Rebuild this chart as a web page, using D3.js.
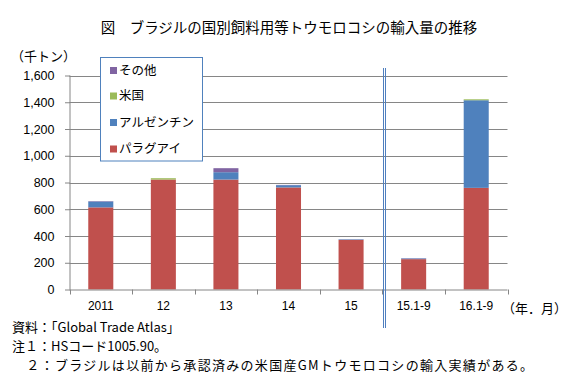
<!DOCTYPE html>
<html><head><meta charset="utf-8">
<script src="https://cdn.jsdelivr.net/npm/d3@7"></script>
<style>
body{margin:0;background:#fff;}
svg{display:block;}
text{font-family:"Noto Sans CJK JP","Liberation Sans",sans-serif;fill:#000;}
.num{font-family:"Liberation Sans","DejaVu Sans",sans-serif;}
</style></head>
<body><svg id="c" width="567" height="383"></svg>
<script>
const categories = ["2011","12","13","14","15","15.1-9","16.1-9"];
const seriesNames = ["パラグアイ","アルゼンチン","米国","その他"];
const paraguay  = [614, 822, 822, 763, 371, 227, 760];
const argentina = [44, 0, 55, 17, 4, 5, 655];
const usa       = [0, 10, 0, 0, 0, 0, 7];
const other     = [3, 0, 30, 2, 1, 2, 0];
const colors = ["#C0504D","#4F81BD","#9BBB59","#8064A2"];
const yTicks = [0,200,400,600,800,1000,1200,1400,1600];
const title = "図　ブラジルの国別飼料用等トウモロコシの輸入量の推移";
const notes = ["資料：「Global Trade Atlas」","注１：HSコード1005.90。","　２：ブラジルは以前から承認済みの米国産GMトウモロコシの輸入実績がある。"];

const svg = d3.select("#c");
const L = 69.5, R = 507.5, T = 75.5, B = 289.5;
const x = d3.scaleBand().domain(categories).range([L, R]).padding(0);
const y = d3.scaleLinear().domain([0,1600]).range([B, T]);

const rows = categories.map((c,i)=>({cat:c, "パラグアイ":paraguay[i], "アルゼンチン":argentina[i], "米国":usa[i], "その他":other[i]}));
const stack = d3.stack().keys(seriesNames)(rows);

// gridlines
svg.append("g").selectAll("line").data(yTicks.filter(d=>d>0)).join("line")
  .attr("x1",L).attr("x2",R).attr("y1",d=>Math.round(y(d))+0.5).attr("y2",d=>Math.round(y(d))+0.5)
  .attr("stroke","#868686").attr("stroke-width",1);

// bars
const bw = x.bandwidth()*0.4;
svg.append("g").selectAll("g").data(stack).join("g")
  .attr("fill",(d,i)=>colors[i])
  .selectAll("rect").data(d=>d).join("rect")
  .attr("x",d=>x(d.data.cat)+(x.bandwidth()-bw)/2)
  .attr("width",bw)
  .attr("y",d=>y(d[1]))
  .attr("height",d=>Math.max(0,y(d[0])-y(d[1])));

// y axis
const ya = svg.append("g").attr("transform",`translate(${L},0)`)
  .call(d3.axisLeft(y).tickValues(yTicks).tickSize(5).tickPadding(10).tickFormat(d3.format(",")));
ya.select(".domain").attr("stroke","#868686").attr("d",`M0.5,${T}V${B}`);
ya.selectAll(".tick line").attr("stroke","#868686").attr("x1",0.5).attr("x2",-4.5);
ya.selectAll(".tick text").attr("class","num").attr("font-size",12.5).attr("fill","#000");

// x axis
const xa = svg.append("g").attr("transform",`translate(0,${B})`)
  .call(d3.axisBottom(x).tickSize(0).tickPadding(12));
xa.select(".domain").attr("stroke","#868686").attr("d",`M${L},0.5H${R}`);
xa.selectAll(".tick text").attr("class","num").attr("font-size",12).attr("fill","#000");
const bounds = categories.map(c=>x(c)).concat([R]);
xa.append("g").selectAll("line").data(bounds).join("line")
  .attr("x1",d=>Math.round(d)+0.5).attr("x2",d=>Math.round(d)+0.5).attr("y1",0).attr("y2",5)
  .attr("stroke","#868686");

// double separator line
const sx = x("15.1-9");
[1.5,3.5].forEach(o=>{
  svg.append("line").attr("x1",Math.round(sx)+o).attr("x2",Math.round(sx)+o)
    .attr("y1",68).attr("y2",328).attr("stroke","#4F7FBF").attr("stroke-width",1);
});

// legend
const lg = svg.append("g");
lg.append("rect").attr("x",100.5).attr("y",57.5).attr("width",102).attr("height",103.5)
  .attr("fill","#fff").attr("stroke","#4F81BD").attr("stroke-width",1);
const legOrder = [3,2,1,0];
const legTops = [67,92.5,119,145.5];
legOrder.forEach((si,k)=>{
  lg.append("rect").attr("x",110).attr("y",legTops[k]).attr("width",7).attr("height",7).attr("fill",colors[si]);
  lg.append("text").attr("x",119).attr("y",legTops[k]+2).attr("dominant-baseline","central")
    .attr("font-size",12.5).text(seriesNames[si]);
});

// title & labels
svg.append("text").attr("x",289).attr("y",26).attr("text-anchor","middle").attr("dominant-baseline","central")
  .attr("font-size",14.5).text(title);
svg.append("text").attr("x",11).attr("y",55).attr("dominant-baseline","central").attr("font-size",13).text("（千トン）");
svg.append("text").attr("x",502).attr("y",307).attr("dominant-baseline","central").attr("font-size",13).text("（年．月）");
const ny = [326,345,364];
const ls = [0,0,1.3];
notes.forEach((t,i)=>{
  svg.append("text").attr("x",12).attr("y",ny[i]).attr("dominant-baseline","central").attr("font-size",13)
    .attr("letter-spacing",ls[i]).text(t);
});
</script></body></html>
